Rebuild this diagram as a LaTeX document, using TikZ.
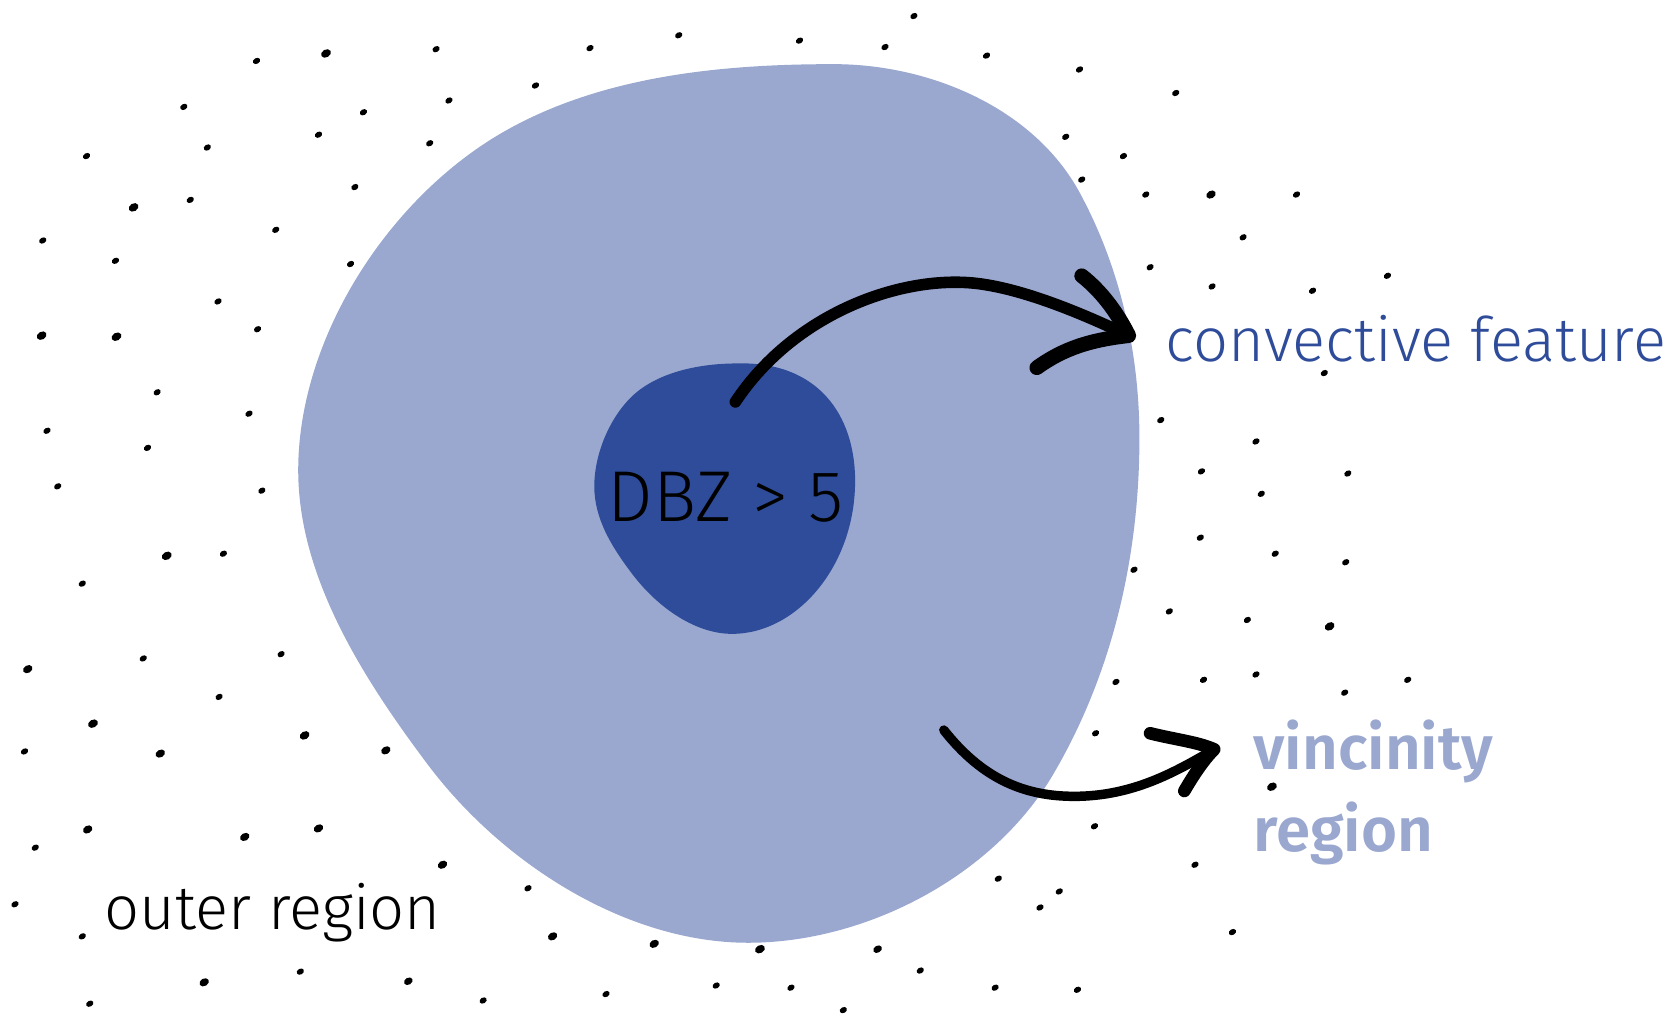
\documentclass[tikz,border=0pt]{standalone}
\usepackage{fontspec}
\setmainfont{Fira Sans}[UprightFont=* Light,BoldFont=* SemiBold]
\definecolor{vicinityblue}{HTML}{9AA8D0}
\definecolor{featureblue}{HTML}{2E4C9A}
\begin{document}
\begin{tikzpicture}[x=0.010689cm,y=-0.010689cm,
  speck/.style={fill=black},
  brush/.style={draw=black,line width=3.3pt,line cap=round,line join=round},
  brushhead/.style={brush,line width=4.2pt},
  label/.style={font=\fontsize{17.5}{21}\selectfont,inner sep=0pt,anchor=base west},
]
\useasboundingbox (0,0) rectangle (1568,949);
% vicinity region and convective core
\fill[vicinityblue] (780,60) .. controls (870,60) and (967,101) .. (1010,180)
  .. controls (1048,250) and (1066,330) .. (1066,410)
  .. controls (1066,520) and (1041,630) .. (985,725)
  .. controls (929,820) and (810,882) .. (700,882)
  .. controls (585,882) and (469,807) .. (400,715)
  .. controls (340,635) and (279,540) .. (279,440)
  .. controls (279,320) and (358,194) .. (460,130)
  .. controls (553,72) and (670,60) .. cycle;
\fill[featureblue] (690,340) .. controls (765,338) and (800,388) .. (800,450)
  .. controls (800,530) and (745,593) .. (685,593)
  .. controls (648,593) and (612,565) .. (590,535)
  .. controls (572,511) and (556,485) .. (556,455)
  .. controls (556,425) and (570,392) .. (590,372)
  .. controls (612,350) and (650,340) .. cycle;
% scattered specks of the outer region
\foreach \x/\y/\r in {855/15/1,240/57/1,305/50/1.35,408/46/1,552/45/1,635/33/1,748/38/1,
  828/44/1,923/52/1,1010/65/1,501/80/1,172/100/1,340/105/1,420/94/1,1100/87/1,
  298/126/1,194/138/1,402/134/1,81/146/1,997/128/1,1051/146/1,125/194/1.35,178/187/1,
  1072/182/1,1133/182/1.3,1213/182/1,1012/168/1,332/175/1,258/215/1,40/225/1,1163/222/1,
  108/244/1,328/247/1,1076/250/1,1134/268/1,1298/258/1,1228/272/1,204/282/1,
  39/314/1.35,109/315/1.35,241/308/1,1239/349/1,147/367/1,233/387/1,
  44/403/1,1086/393/1,1175/413/1,138/419/1,1124/441/1,1180/462/1,1261/443/1,
  54/455/1,245/459/1,1123/503/1,1193/518/1,156/520/1.35,209/518/1,77/546/1,1061/533/1,
  1259/526/1,1094/572/1,1167/580/1,1244/586/1.35,263/612/1,134/616/1,26/626/1.3,
  1126/636/1,1175/631/1,1258/648/1,1317/636/1,1044/638/1,205/652/1,87/677/1.35,
  285/688/1.35,150/705/1.3,361/702/1.3,23/703/1,1025/686/1,1190/736/1.35,1024/773/1,
  1118/809/1,82/776/1.3,229/783/1.3,298/775/1.3,33/793/1,414/809/1.3,494/831/1,
  934/822/1,991/834/1,973/849/1,14/846/1,1153/872/1,517/876/1.3,612/883/1.3,
  711/888/1.35,821/888/1.2,861/908/1,77/876/1,191/919/1.3,281/909/1,
  382/918/1.2,452/936/1,567/930/1,670/922/1,740/924/1,789/945/1,
  931/924/1,1008/926/1,84/939/1}
  \fill[speck,rotate around={30:(\x,\y)}] (\x,\y) ellipse [x radius=3.6*\r,y radius=2.7*\r];
\node[label,font=\fontsize{20.5}{24}\selectfont] (core) at (568,488) {DBZ > 5};
\node[label,text=featureblue] (feature) at (1090,338) {convective feature};
\node[label,text=vicinityblue,font=\fontsize{17.6}{21}\selectfont\bfseries] (vicinity) at (1172,720) {vincinity};
\node[label,text=vicinityblue,font=\fontsize{17.6}{21}\selectfont\bfseries] (region) at (1172,797) {region};
\node[label] (outer) at (97,870) {outer region};
% hand drawn arrows
\coordinate (a1) at (688,376);
\coordinate (t1) at (1056,314);
\draw[brush] (a1) .. controls (745,290) and (850,255) .. (920,266)
  .. controls (960,272) and (1010,292) .. (t1);
\draw[brushhead] (1012,258) .. controls (1030,272) and (1045,292) .. (t1)
  .. controls (1020,318) and (995,326) .. (970,344);
\coordinate (a2) at (883,683);
\coordinate (t2) at (1136,701);
\draw[brush,line width=2.7pt] (a2) .. controls (920,730) and (960,745) .. (1005,745)
  .. controls (1060,745) and (1100,722) .. (t2);
\draw[brushhead,line width=3.6pt] (1076,686) .. controls (1100,692) and (1120,694) .. (t2)
  .. controls (1125,712) and (1115,728) .. (1108,740);
\end{tikzpicture}
\end{document}
